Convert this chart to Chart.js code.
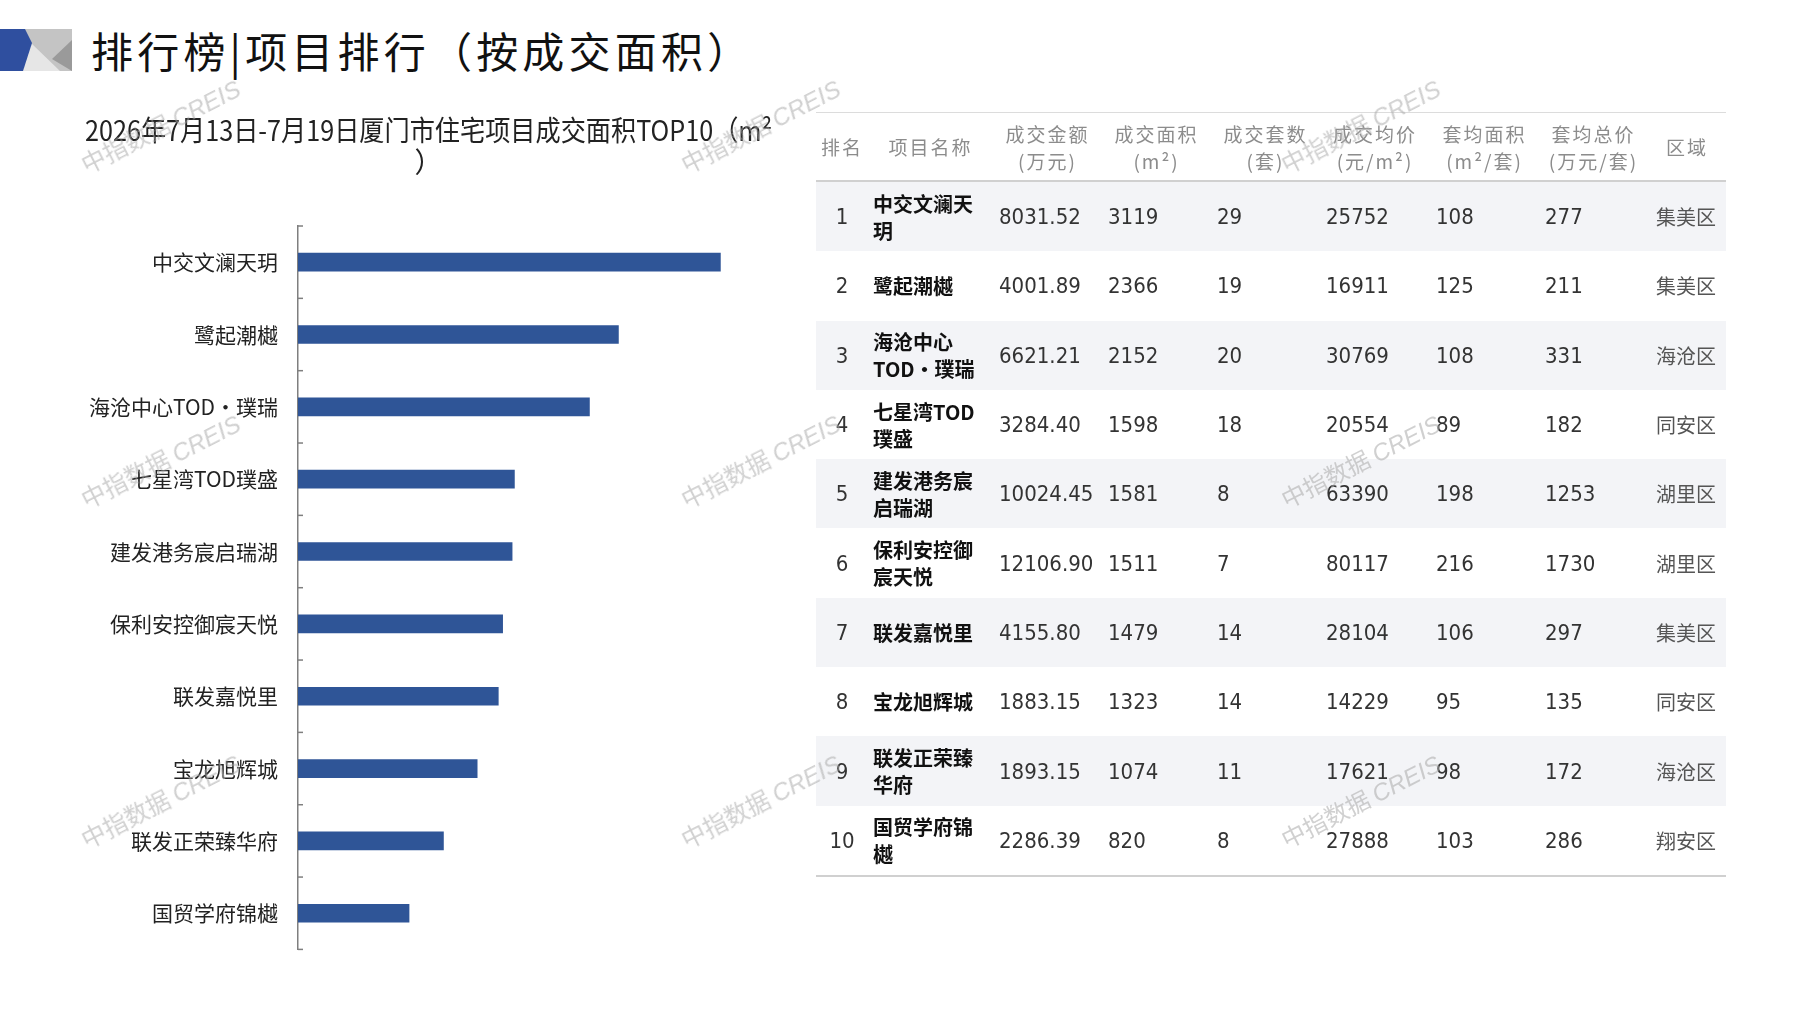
<!DOCTYPE html>
<html lang="zh-CN">
<head>
    <meta charset="UTF-8">
    <title>排行榜 项目排行（按成交面积）</title>
    <script src="https://cdn.jsdelivr.net/npm/chart.js"></script>
    <style>
        html, body { margin: 0; padding: 0; background: #fff; }
        body { width: 1797px; height: 1010px; position: relative; overflow: hidden;
               font-family: "Noto Sans CJK SC", "Noto Sans", sans-serif; }
        #logo { position: absolute; left: 0; top: 29px; }
        #page-title { position: absolute; left: 91px; top: 20px; font-size: 42px; letter-spacing: 4.2px;
                      color: #111; line-height: 60px; white-space: nowrap; }
        #chart-box { position: absolute; left: 0; top: 112px; width: 872px; height: 870px; }
        #rank-table { position: absolute; left: 816px; top: 112px; width: 910px; border-collapse: collapse;
                      table-layout: fixed; border-top: 1px solid #dcdcdc; border-bottom: 2px solid #d0d0d0; }
        #rank-table th { height: 67px; color: #8c8c8c; font-weight: normal; font-size: 19px; letter-spacing: 2px;
                         line-height: 27px; text-align: center; border-bottom: 2px solid #d0d0d0; padding: 0; }
        #rank-table td { height: 69.3px; padding: 0 0 0 6px; font-size: 22px; color: #333; vertical-align: middle;
                         font-family: "Liberation Sans Narrow", "DejaVu Sans Condensed", "Noto Sans", sans-serif; }
        #rank-table tr.odd td { background: #f3f4f7; }
        #rank-table td.rank { text-align: center; padding: 0; }
        #rank-table td.name { font-family: "Noto Sans CJK SC", sans-serif; font-size: 20px; color: #111;
                              font-weight: bold; line-height: 27px; padding-left: 5px; padding-right: 4px; }
        #rank-table td.district { font-family: "Noto Sans CJK SC", sans-serif; font-size: 20px; color: #555;
                                  padding-left: 8px; }
        .wm { position: absolute; font-size: 24px; color: rgba(170,170,170,0.55); white-space: nowrap;
              transform: translate(-50%, -50%) rotate(-27deg); pointer-events: none; z-index: 5;
              font-family: "Noto Sans CJK SC", sans-serif; }
        .wm i { font-family: "Liberation Sans", sans-serif; }
    </style>
</head>
<body>
<svg id="logo" width="72" height="42" viewBox="0 0 72 42">
    <rect x="0" y="0" width="72" height="42" fill="#c4c4c4"/>
    <polygon points="20,42 31,14 60,42" fill="#e6e6e6"/>
    <polygon points="52,30 72,11 72,42" fill="#9a9a9a"/>
    <polygon points="0,0 25,0 32,14 23,42 0,42" fill="#2f4f9f"/>
</svg>
<div id="page-title">排行榜|项目排行（按成交面积）</div>

<div id="chart-box"><canvas id="areaChart"></canvas></div>

<table id="rank-table">
    <colgroup>
        <col style="width:52px"><col style="width:125px"><col style="width:109px"><col style="width:109px">
        <col style="width:109px"><col style="width:110px"><col style="width:109px"><col style="width:109px">
        <col style="width:78px">
    </colgroup>
    <thead><tr id="table-head"></tr></thead>
    <tbody id="table-body"></tbody>
</table>

<script>
// 成交面积TOP10 数据
const chartTitle = ['2026年7月13日-7月19日厦门市住宅项目成交面积TOP10（m²', '）'];
const ranks = [1, 2, 3, 4, 5, 6, 7, 8, 9, 10];
const projects = ['中交文澜天玥', '鹭起潮樾', '海沧中心TOD·璞瑞', '七星湾TOD璞盛', '建发港务宸启瑞湖',
                  '保利安控御宸天悦', '联发嘉悦里', '宝龙旭辉城', '联发正荣臻华府', '国贸学府锦樾'];
const amounts = ['8031.52', '4001.89', '6621.21', '3284.40', '10024.45', '12106.90', '4155.80', '1883.15', '1893.15', '2286.39'];
const areas = [3119, 2366, 2152, 1598, 1581, 1511, 1479, 1323, 1074, 820];
const units = [29, 19, 20, 18, 8, 7, 14, 14, 11, 8];
const prices = [25752, 16911, 30769, 20554, 63390, 80117, 28104, 14229, 17621, 27888];
const avgAreas = [108, 125, 108, 89, 198, 216, 106, 95, 98, 103];
const avgTotals = [277, 211, 331, 182, 1253, 1730, 297, 135, 172, 286];
const districts = ['集美区', '集美区', '海沧区', '同安区', '湖里区', '湖里区', '集美区', '同安区', '海沧区', '翔安区'];
const headers = [['排名'], ['项目名称'], ['成交金额', '(万元)'], ['成交面积', '(m²)'], ['成交套数', '(套)'],
                 ['成交均价', '(元/m²)'], ['套均面积', '(m²/套)'], ['套均总价', '(万元/套)'], ['区域']];

// 表格
const headRow = document.getElementById('table-head');
headers.forEach(h => {
    const th = document.createElement('th');
    th.innerHTML = h.join('<br>');
    headRow.appendChild(th);
});
const tbody = document.getElementById('table-body');
ranks.forEach((r, i) => {
    const tr = document.createElement('tr');
    if (i % 2 === 0) tr.className = 'odd';
    tr.innerHTML = `
        <td class="rank">${r}</td>
        <td class="name">${projects[i]}</td>
        <td>${amounts[i]}</td>
        <td>${areas[i]}</td>
        <td>${units[i]}</td>
        <td>${prices[i]}</td>
        <td>${avgAreas[i]}</td>
        <td>${avgTotals[i]}</td>
        <td class="district">${districts[i]}</td>
    `;
    tbody.appendChild(tr);
});

// 水印
const wmX = [160, 760, 1360];
const wmY = [125, 460, 800];
wmY.forEach(y => wmX.forEach(x => {
    const d = document.createElement('div');
    d.className = 'wm';
    d.style.left = x + 'px';
    d.style.top = y + 'px';
    d.innerHTML = '中指数据 <i>CREIS</i>';
    document.body.appendChild(d);
}));

// 坐标轴内侧刻度
const innerTicks = {
    id: 'innerTicks',
    afterDraw(chart) {
        const s = chart.scales.y;
        const ctx = chart.ctx;
        const step = (s.bottom - s.top) / projects.length;
        ctx.save();
        ctx.strokeStyle = '#7f7f7f';
        ctx.lineWidth = 1.5;
        for (let i = 0; i <= projects.length; i++) {
            const y = s.top + i * step;
            ctx.beginPath();
            ctx.moveTo(s.right, y);
            ctx.lineTo(s.right + 5, y);
            ctx.stroke();
        }
        ctx.restore();
    }
};

const ctx = document.getElementById('areaChart').getContext('2d');
new Chart(ctx, {
    type: 'bar',
    data: {
        labels: projects,
        datasets: [{
            label: '成交面积',
            data: areas,
            backgroundColor: '#2f5597',
            barThickness: 18
        }]
    },
    options: {
        indexAxis: 'y',
        responsive: true,
        maintainAspectRatio: false,
        animation: false,
        layout: { padding: { top: 0, right: 100, bottom: 21, left: 85 } },
        plugins: {
            legend: { display: false },
            tooltip: { enabled: false },
            title: {
                display: true,
                text: chartTitle,
                color: '#222',
                font: { family: '"Noto Sans CJK SC", sans-serif', size: 28, weight: 'normal', lineHeight: 1.143 },
                padding: { top: 2, bottom: 48 }
            }
        },
        scales: {
            x: { display: false, min: 0, max: 3500 },
            y: {
                afterFit(scale) { scale.width = 213; },
                grid: { display: true, drawOnChartArea: false, drawTicks: false },
                border: { display: true, color: '#7f7f7f', width: 1.5 },
                ticks: {
                    padding: 20,
                    color: '#222',
                    font: { family: '"Noto Sans CJK SC", sans-serif', size: 21 }
                }
            }
        }
    },
    plugins: [innerTicks]
});
</script>
</body>
</html>
